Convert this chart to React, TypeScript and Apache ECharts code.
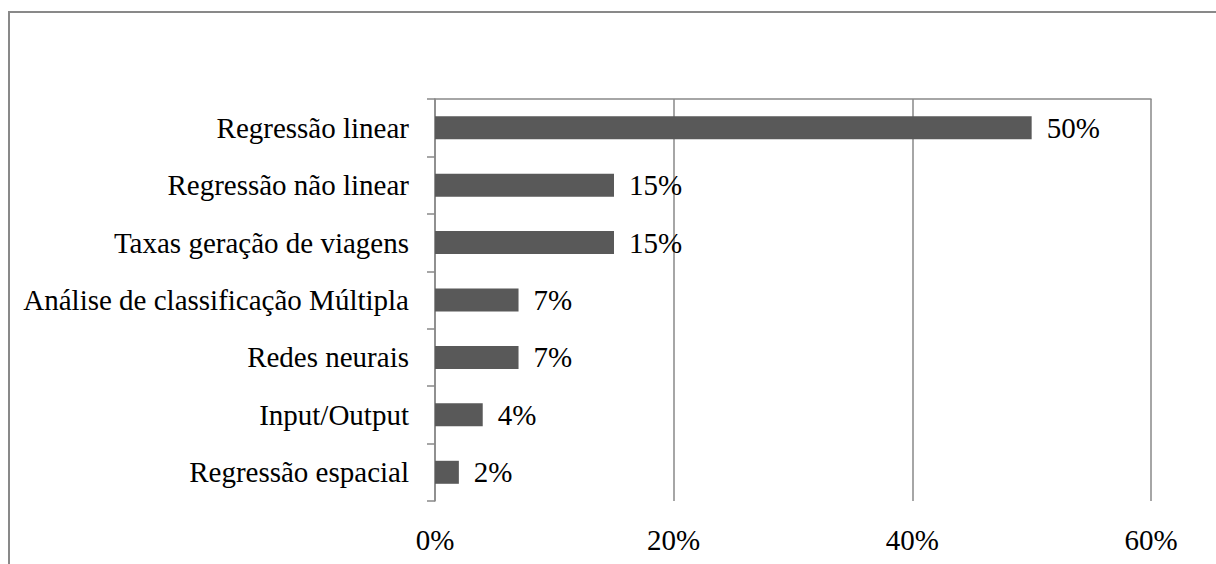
import React, { useEffect, useRef } from "react";
import * as echarts from "echarts";

// Métodos de estimativa de geração de viagens (participação, %)
const categories: string[] = [
  "Regressão linear",
  "Regressão não linear",
  "Taxas geração de viagens",
  "Análise de classificação Múltipla",
  "Redes neurais",
  "Input/Output",
  "Regressão espacial",
];
const shares: number[] = [50, 15, 15, 7, 7, 4, 2];

const axisMin = 0;
const axisMax = 60;
const axisStep = 20;

const FONT = "Times New Roman, Liberation Serif, DejaVu Serif, serif";
const GREY = "#898989";

export default function App() {
  const ref = useRef<HTMLDivElement>(null);

  useEffect(() => {
    if (!ref.current) return;
    const chart = echarts.init(ref.current, null, { renderer: "svg" });
    chart.setOption({
      animation: false,
      backgroundColor: "#ffffff",
      textStyle: { fontFamily: FONT },
      graphic: [
        {
          type: "rect",
          shape: { x: 9, y: 12, width: 1400, height: 1000 },
          style: { fill: "none", stroke: GREY, lineWidth: 2 },
          silent: true,
        },
      ],
      grid: { left: 435, right: 65, top: 99, bottom: 63, containLabel: false },
      xAxis: [
        {
          type: "value",
          position: "bottom",
          min: axisMin,
          max: axisMax,
          interval: axisStep,
          axisLine: { show: false },
          axisTick: { show: false },
          axisLabel: {
            formatter: "{value}%",
            fontFamily: FONT,
            fontSize: 29,
            color: "#000",
            margin: 24,
          },
          splitLine: { show: true, lineStyle: { color: GREY, width: 1.5 } },
        },
        {
          type: "value",
          position: "top",
          min: axisMin,
          max: axisMax,
          interval: axisStep,
          axisLine: { show: true, lineStyle: { color: GREY, width: 1.5 } },
          axisTick: { show: false },
          axisLabel: { show: false },
          splitLine: { show: false },
        },
      ],
      yAxis: {
        type: "category",
        data: categories,
        inverse: true,
        axisLine: { show: true, lineStyle: { color: GREY, width: 1.5 } },
        axisTick: { show: true, length: 8, lineStyle: { color: GREY, width: 1.5 } },
        axisLabel: {
          fontFamily: FONT,
          fontSize: 29,
          color: "#000",
          margin: 26,
        },
        splitLine: { show: false },
      },
      series: [
        {
          type: "bar",
          xAxisIndex: 0,
          data: shares,
          barWidth: 23,
          itemStyle: { color: "#595959" },
          label: {
            show: true,
            position: "right",
            distance: 15,
            formatter: "{c}%",
            fontFamily: FONT,
            fontSize: 29,
            color: "#000",
          },
        },
      ],
    });
    return () => chart.dispose();
  }, []);

  return (
    <div
      ref={ref}
      style={{ position: "fixed", left: 0, top: 0, width: 1216, height: 564 }}
    />
  );
}
